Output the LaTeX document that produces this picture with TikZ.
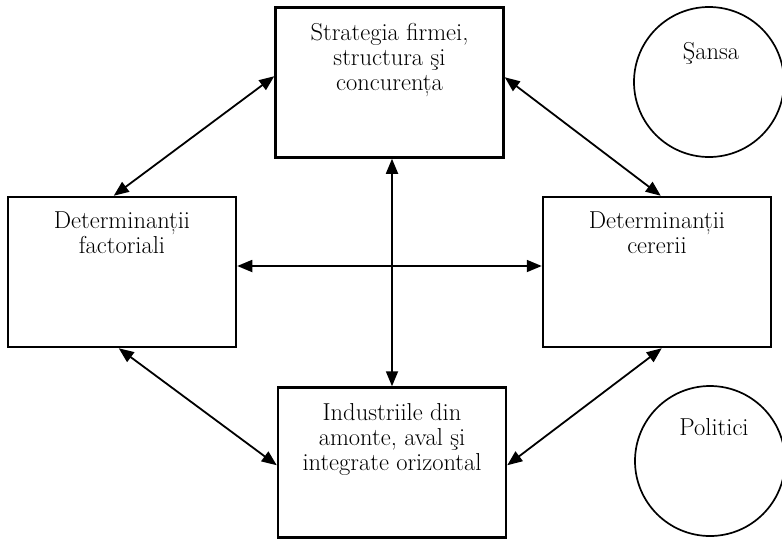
\documentclass[tikz,border=0pt]{standalone}
\usepackage{fontspec}
\usetikzlibrary{arrows.meta,calc}
\begin{document}
\begin{tikzpicture}[x=1pt,y=-1pt,
  box/.style={draw, line width=2.5pt, rectangle, inner sep=0pt, minimum width=228pt, minimum height=150pt},
  ring/.style={draw, line width=1.7pt, circle, inner sep=0pt, minimum size=150pt},
  lbl/.style={inner sep=0pt, anchor=base, font=\fontsize{24.5}{25}\selectfont},
  conn/.style={line width=1.8pt, {Triangle[length=15pt,width=12pt]}-{Triangle[length=15pt,width=12pt]}}]
\useasboundingbox (0,0) rectangle (782,539);
% boxes
\node[box] (top) at (389.5,82.5) {};
\node[box] (left) at (122,272) {};
\node[box] (right) at (657,272) {};
\node[box] (bot) at (392,462.5) {};
% circles
\node[ring] (sansa) at (709,82) {};
\node[ring] (pol) at (710,461) {};
% texts
\node[lbl] (ttop) at (389.5,40) {\begin{tabular}[t]{@{}c@{}}Strategia firmei,\\structura şi\\concurența\end{tabular}};
\node[lbl] (tleft) at (122,228) {\begin{tabular}[t]{@{}c@{}}Determinanții\\factoriali\end{tabular}};
\node[lbl] (tright) at (657,228) {\begin{tabular}[t]{@{}c@{}}Determinanții\\cererii\end{tabular}};
\node[lbl] (tbot) at (392,420) {\begin{tabular}[t]{@{}c@{}}Industriile din\\amonte, aval şi\\integrate orizontal\end{tabular}};
\node[lbl] (tsansa) at (711,59) {Şansa};
\node[lbl] (tpol) at (714,435) {Politici};
% connectors
\draw[conn] ($(top.north west)+(0,70)$) -- ($(left.north west)+(107,0)$);
\draw[conn] ($(top.north east)+(0,71)$) -- ($(right.north west)+(119,0)$);
\draw[conn] ($(left.south west)+(112,0)$) -- ($(bot.north west)+(0,79)$);
\draw[conn] ($(right.south west)+(120,0)$) -- ($(bot.north east)+(0,79)$);
\draw[conn] (bot.north |- top.south) -- (bot.north);
\draw[conn] ($(left.east)+(0,-6)$) -- ($(right.west)+(0,-6)$);
\end{tikzpicture}
\end{document}
